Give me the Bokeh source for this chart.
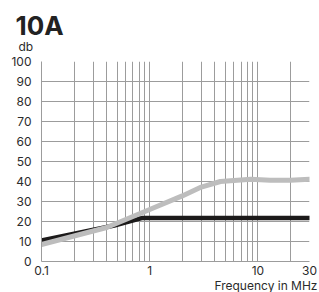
from bokeh.plotting import figure
from bokeh.models import FixedTicker, Range1d, Title
from bokeh.embed import file_html
from bokeh.resources import INLINE

# --- data ---
freq_black = [0.1, 0.47, 0.86, 30]
db_black = [10.5, 18.0, 21.8, 21.8]

freq_gray = [0.1, 0.4, 1.0, 2.0, 3.0, 4.5, 8.6, 13, 20, 30]
db_gray = [8.5, 17.0, 26.0, 32.8, 37.2, 40.0, 41.1, 40.6, 40.6, 41.1]

x_major = [0.1, 1, 10, 30]
x_minor = [0.2, 0.3, 0.4, 0.5, 0.6, 0.7, 0.8, 0.9,
           2, 3, 4, 5, 6, 7, 8, 9, 20]
x_labels = {0.1: "0.1", 1: "1", 10: "10", 30: "30"}
y_ticks = [0, 10, 20, 30, 40, 50, 60, 70, 80, 90, 100]

FONT = "Inter"
GRID = "#9c9c9c"
TXT = "#2b2b2b"

p = figure(width=319, height=292, x_axis_type="log",
           x_range=Range1d(0.1, 30), y_range=Range1d(0, 100),
           output_backend="svg", toolbar_location=None,
           min_border_left=41, min_border_right=10,
           min_border_top=61, min_border_bottom=30)
p.outline_line_color = None
p.background_fill_color = "white"
p.border_fill_color = "white"

xt = FixedTicker(ticks=x_major, minor_ticks=x_minor)
p.xaxis.ticker = xt
p.xgrid.ticker = xt
p.xaxis.major_label_overrides = x_labels
p.yaxis.ticker = FixedTicker(ticks=y_ticks)

for ax in (p.xaxis[0], p.yaxis[0]):
    ax.axis_line_color = GRID
    ax.major_tick_line_color = None
    ax.minor_tick_line_color = None
    ax.major_label_text_font = FONT
    ax.major_label_text_font_size = "12px"
    ax.major_label_text_color = TXT
p.yaxis.major_label_standoff = 4
p.xaxis.major_label_standoff = -2

p.xgrid.grid_line_color = GRID
p.xgrid.minor_grid_line_color = GRID
p.ygrid.grid_line_color = GRID

p.line(freq_black, db_black, line_color="#1c1a1a", line_width=4.5,
       line_cap="round", line_join="round")
p.line(freq_gray, db_gray, line_color="#bdbdbd", line_width=5,
       line_cap="round", line_join="round")

# texts outside the frame, in panels
p.add_layout(Title(text="db", align="left", offset=-23, standoff=15,
                   text_font=FONT, text_font_size="12px",
                   text_font_style="normal", text_color=TXT), "above")
p.add_layout(Title(text="10A", align="left", offset=-26, standoff=-22,
                   text_font=FONT, text_font_size="26px",
                   text_font_style="bold", text_color="#222222"), "above")
p.add_layout(Title(text="Frequency in MHz", align="right", offset=-8,
                   standoff=-2, vertical_align="middle", text_font=FONT,
                   text_font_size="12px", text_font_style="normal",
                   text_color=TXT), "below")

open("out.html", "w").write(file_html(p, INLINE))
